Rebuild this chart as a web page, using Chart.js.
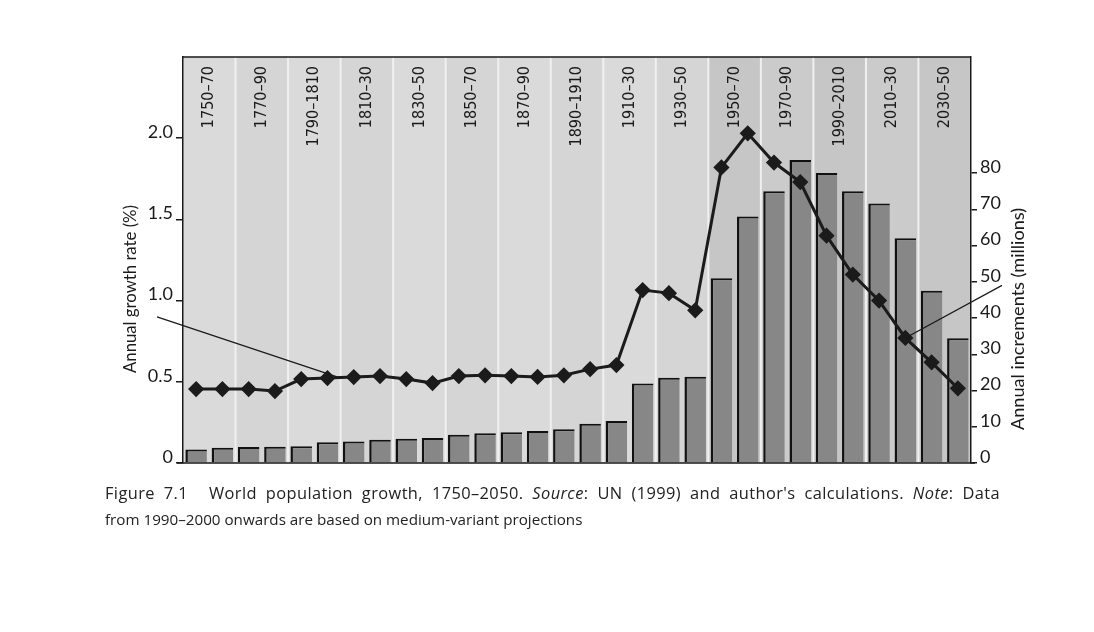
<!DOCTYPE html>
<html lang="en">
<head>
<meta charset="UTF-8">
<title>World population growth, 1750-2050</title>
<script src="https://cdn.jsdelivr.net/npm/chart.js"></script>
<style>
  body{margin:0;background:#fff;font-family:'Open Sans',sans-serif}
  .wrap{position:relative;width:1094px;height:632px}
  .caption{position:absolute;left:105px;top:479px;width:895px;font-size:15.2px;line-height:27px;color:#222}
  .caption .l1{font-size:16.4px;text-align:justify;text-align-last:justify;white-space:nowrap;letter-spacing:0.4px}
  .caption .fig{margin-right:12px}
</style>
</head>
<body>
<div class="wrap">
  <canvas id="chart"></canvas>
  <div class="caption">
    <div class="l1"><span class="fig">Figure 7.1</span> World population growth, 1750–2050. <i>Source</i>: UN (1999) and author's calculations. <i>Note</i>: Data</div>
    <div>from 1990–2000 onwards are based on medium-variant projections</div>
  </div>
</div>
<script>
// decades on the x axis (one bar and one point each)
const decades = ['1750–60','1760–70','1770–80','1780–90','1790–1800','1800–10','1810–20','1820–30','1830–40','1840–50',
  '1850–60','1860–70','1870–80','1880–90','1890–1900','1900–10','1910–20','1920–30','1930–40','1940–50',
  '1950–60','1960–70','1970–80','1980–90','1990–2000','2000–10','2010–20','2020–30','2030–40','2040–50'];
// 20-year period labels printed at the top
const periods = ['1750–70','1770–90','1790–1810','1810–30','1830–50','1850–70','1870–90','1890–1910',
  '1910–30','1930–50','1950–70','1970–90','1990–2010','2010–30','2030–50'];
// annual increments (millions) - bars, right axis
const increments = [3.7,4.2,4.4,4.5,4.6,5.7,5.9,6.4,6.7,6.9,7.8,8.2,8.5,8.8,9.3,10.8,11.6,21.9,23.5,23.8,
  51,68,75,83.6,80,75,71.6,62,47.5,34.4];
// annual growth rate (%) - line, left axis
const growthRate = [0.455,0.455,0.455,0.443,0.517,0.523,0.529,0.535,0.517,0.492,0.535,0.54,0.535,0.53,0.54,0.578,0.603,
  1.065,1.046,0.94,1.82,2.03,1.85,1.73,1.40,1.16,1.00,0.77,0.62,0.46];
const rateTicks = [0,0.5,1.0,1.5,2.0];
const incrementTicks = [0,10,20,30,40,50,60,70,80];

const tickFont = {family:'Lato', size:18};
const ink = '#1a1a1a';

const decor = {
  id:'decor',
  beforeDraw(chart){
    const {ctx, chartArea:a, scales:{x}} = chart;
    const w = (a.right - a.left) / decades.length;
    ctx.save();
    const shades = ['#dadada','#d5d5d5'];
    periods.forEach((p,i)=>{
      const l = x.getPixelForValue(i*2) - w/2, r = l + 2*w;
      ctx.fillStyle = i>=10 ? (i%2 ? '#cbcbcb':'#c6c6c6') : shades[i%2];
      ctx.fillRect(l, a.top, r-l, a.bottom-a.top);
      if(i>0){ ctx.fillStyle='#f0f0f0'; ctx.fillRect(l-1, a.top, 2, a.bottom-a.top); }
    });
    ctx.restore();
  },
  afterDraw(chart){
    const {ctx, chartArea:a, scales:{x, yRate, yInc}} = chart;
    ctx.save();
    ctx.strokeStyle = ink;
    ctx.lineWidth = 1.5;
    ctx.beginPath();
    ctx.moveTo(a.left, a.top); ctx.lineTo(a.right, a.top);
    ctx.moveTo(a.left-6, a.bottom); ctx.lineTo(a.right+4, a.bottom);
    ctx.stroke();

    // period labels
    ctx.fillStyle = ink;
    ctx.font = '16px "Liberation Sans Narrow", "DejaVu Sans Condensed", sans-serif';
    ctx.textAlign = 'right';
    ctx.textBaseline = 'middle';
    periods.forEach((p,i)=>{
      const cx = (x.getPixelForValue(i*2) + x.getPixelForValue(i*2+1))/2;
      ctx.save();
      ctx.translate(cx, a.top + 9);
      ctx.rotate(-Math.PI/2);
      ctx.fillText(p, 0, 0);
      ctx.restore();
    });

    // axis titles
    ctx.font = '17px Lato, sans-serif';
    ctx.textAlign = 'center';
    [['Annual growth rate (%)', 131, 289, 168], ['Annual increments (millions)', 1019, 319, 222]].forEach(([t,tx,ty,len])=>{
      ctx.save(); ctx.translate(tx, ty); ctx.rotate(-Math.PI/2);
      const k = len / ctx.measureText(t).width;
      ctx.scale(k, 1);
      ctx.fillText(t, 0, 0); ctx.restore();
    });

    // leader lines from the axis titles to the series
    const m1 = chart.getDatasetMeta(1).data;
    ctx.lineWidth = 1.2;
    ctx.beginPath();
    ctx.moveTo(a.left - 26, yRate.getPixelForValue(0.9));
    ctx.lineTo(m1[5].x + 0.45*(m1[6].x-m1[5].x), m1[5].y + 0.45*(m1[6].y-m1[5].y));
    ctx.moveTo(a.right + 31, yInc.getPixelForValue(49));
    ctx.lineTo(m1[27].x, m1[27].y);
    ctx.stroke();
    ctx.restore();
  }
};

new Chart(document.getElementById('chart'), {
  data:{
    labels: decades,
    datasets:[
      {type:'bar', label:'Annual increments (millions)', data:increments, yAxisID:'yInc', order:2,
       backgroundColor:'#878787', borderColor:'#111', borderWidth:{top:2,left:2.5,right:0,bottom:0}, borderSkipped:false,
       barPercentage:0.82, categoryPercentage:1},
      {type:'line', label:'Annual growth rate (%)', data:growthRate, yAxisID:'yRate', order:1,
       borderColor:'#1b1b1b', borderWidth:3, pointStyle:'rectRot', pointRadius:6, pointBackgroundColor:'#1b1b1b',
       pointBorderColor:'#1b1b1b', tension:0}
    ]
  },
  options:{
    responsive:true, maintainAspectRatio:false, animation:false,
    layout:{padding:{top:57, bottom:169, left:0, right:0}},
    plugins:{legend:{display:false}, tooltip:{enabled:false}},
    scales:{
      x:{type:'category', display:false, offset:true},
      yRate:{position:'left', min:0, max:2.5,
        afterBuildTicks:s=>{s.ticks = rateTicks.map(v=>({value:v}));},
        afterFit:s=>{s.width = 183;},
        ticks:{font:tickFont, color:ink, padding:3, labelOffset:-6, callback:v=> v===0 ? '0' : v.toFixed(1)},
        grid:{drawOnChartArea:false, drawTicks:true, tickLength:7, color:ink, lineWidth:1.5},
        border:{display:true, color:ink, width:1.5}},
      yInc:{position:'right', min:0, max:112,
        afterBuildTicks:s=>{s.ticks = incrementTicks.map(v=>({value:v}));},
        afterFit:s=>{s.width = 123;},
        ticks:{font:tickFont, color:ink, padding:3, labelOffset:-6},
        grid:{drawOnChartArea:false, drawTicks:true, tickLength:6, color:ink, lineWidth:1.5},
        border:{display:true, color:ink, width:1.5}}
    }
  },
  plugins:[decor]
});
</script>
</body>
</html>
